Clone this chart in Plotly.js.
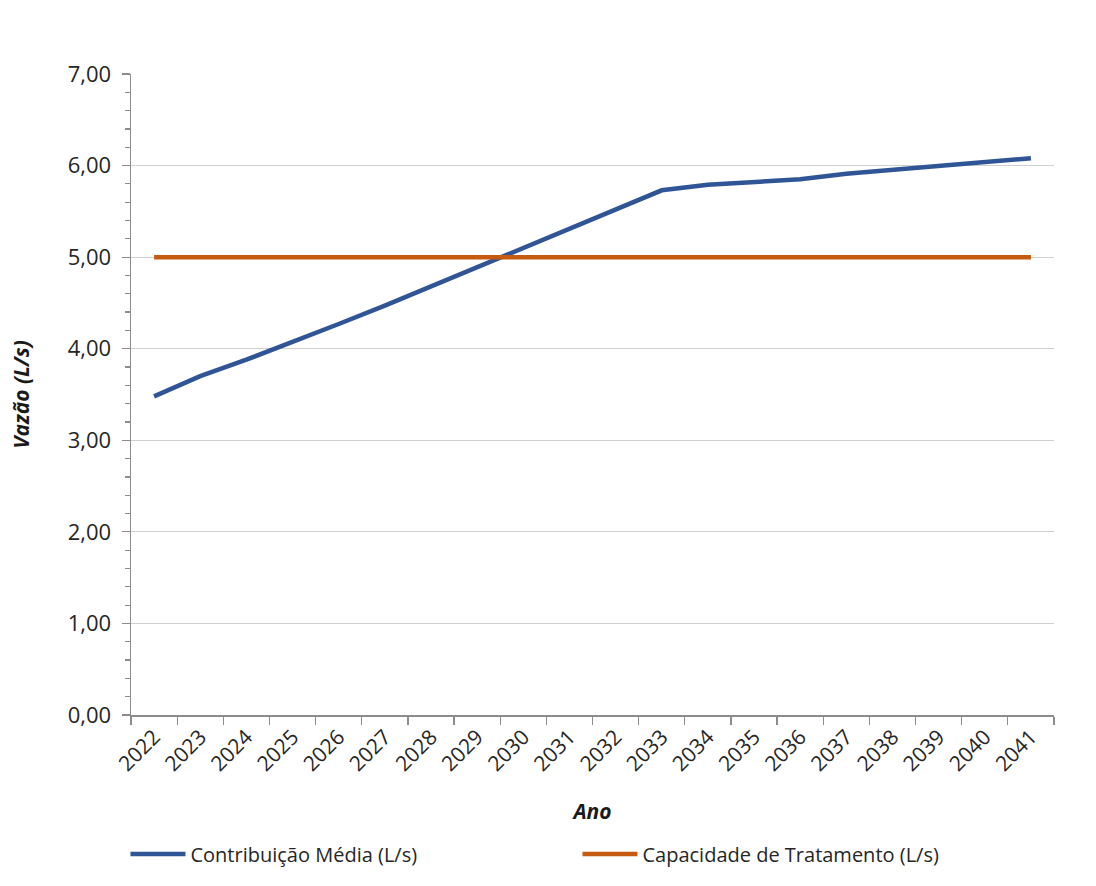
<!DOCTYPE html>
<html>
<head>
<meta charset="utf-8">
<script src="https://cdn.plot.ly/plotly-3.0.1.min.js"></script>
<style>html,body{margin:0;padding:0;background:#fff;}#chart{width:1096px;height:886px;}</style>
</head>
<body>
<div id="chart"></div>
<script>
const anos = ['2022','2023','2024','2025','2026','2027','2028','2029','2030','2031','2032','2033','2034','2035','2036','2037','2038','2039','2040','2041'];
const contribuicaoMedia = [3.48,3.70,3.88,4.07,4.27,4.47,4.68,4.90,5.11,5.31,5.52,5.73,5.79,5.82,5.85,5.91,5.95,6.00,6.04,6.08];
const capacidadeTratamento = [5.00,5.00,5.00,5.00,5.00,5.00,5.00,5.00,5.00,5.00,5.00,5.00,5.00,5.00,5.00,5.00,5.00,5.00,5.00,5.00];
const nomeSerie1 = 'Contribuição Média (L/s)';
const nomeSerie2 = 'Capacidade de Tratamento (L/s)';

const fontFam = '"Open Sans", "DejaVu Sans", sans-serif';
const traces = [
  {x: anos, y: contribuicaoMedia, type: 'scatter', mode: 'lines', name: nomeSerie1,
   line: {color: '#2F5597', width: 4.5}, hoverinfo: 'skip'},
  {x: anos, y: capacidadeTratamento, type: 'scatter', mode: 'lines', name: nomeSerie2,
   line: {color: '#C55A11', width: 4.5}, hoverinfo: 'skip'}
];
const layout = {
  width: 1096, height: 886,
  margin: {l: 131, r: 42, t: 74, b: 171},
  paper_bgcolor: '#fff', plot_bgcolor: '#fff',
  separators: ',.',
  font: {family: fontFam, size: 19, color: '#262626'},
  showlegend: true,
  legend: {orientation: 'h', x: -0.006, xanchor: 'left', y: -0.217, yanchor: 'middle',
           entrywidth: 382, entrywidthmode: 'pixels', itemwidth: 55,
           font: {family: fontFam, size: 20, color: '#262626'}, traceorder: 'normal'},
  xaxis: {
    type: 'category', range: [-0.5, 19.5], tickson: 'boundaries', ticks: 'outside', ticklen: 8, tickcolor: '#8c8c8c', tickwidth: 1.2,
    showline: true, linecolor: '#8c8c8c', linewidth: 1.5, showgrid: false, zeroline: false,
    tickangle: -45, tickfont: {family: fontFam, size: 21, color: '#262626'},
    title: {text: '<b><i>Ano</i></b>', font: {family: fontFam, size: 21, color: '#1a1a1a'}, standoff: 28},
    fixedrange: true
  },
  yaxis: {
    range: [0, 7], dtick: 1, tick0: 0, tickformat: '.2f',
    ticks: 'outside', ticklen: 8, tickcolor: '#8c8c8c', tickwidth: 1.2,
    minor: {dtick: 0.2, ticks: 'outside', ticklen: 5, tickcolor: '#8c8c8c', tickwidth: 1.2, showgrid: false},
    showline: true, linecolor: '#8c8c8c', linewidth: 1.5,
    showgrid: true, gridcolor: '#d0d0d0', gridwidth: 1.2, zeroline: false,
    ticklabelstandoff: 6,
    tickfont: {family: fontFam, size: 22, color: '#262626'},
    title: {text: '<b><i>Vazão (L/s)</i></b>', font: {family: fontFam, size: 21, color: '#1a1a1a'}, standoff: 32},
    fixedrange: true
  }
};
Plotly.newPlot('chart', traces, layout, {displayModeBar: false, staticPlot: true});
</script>
</body>
</html>
